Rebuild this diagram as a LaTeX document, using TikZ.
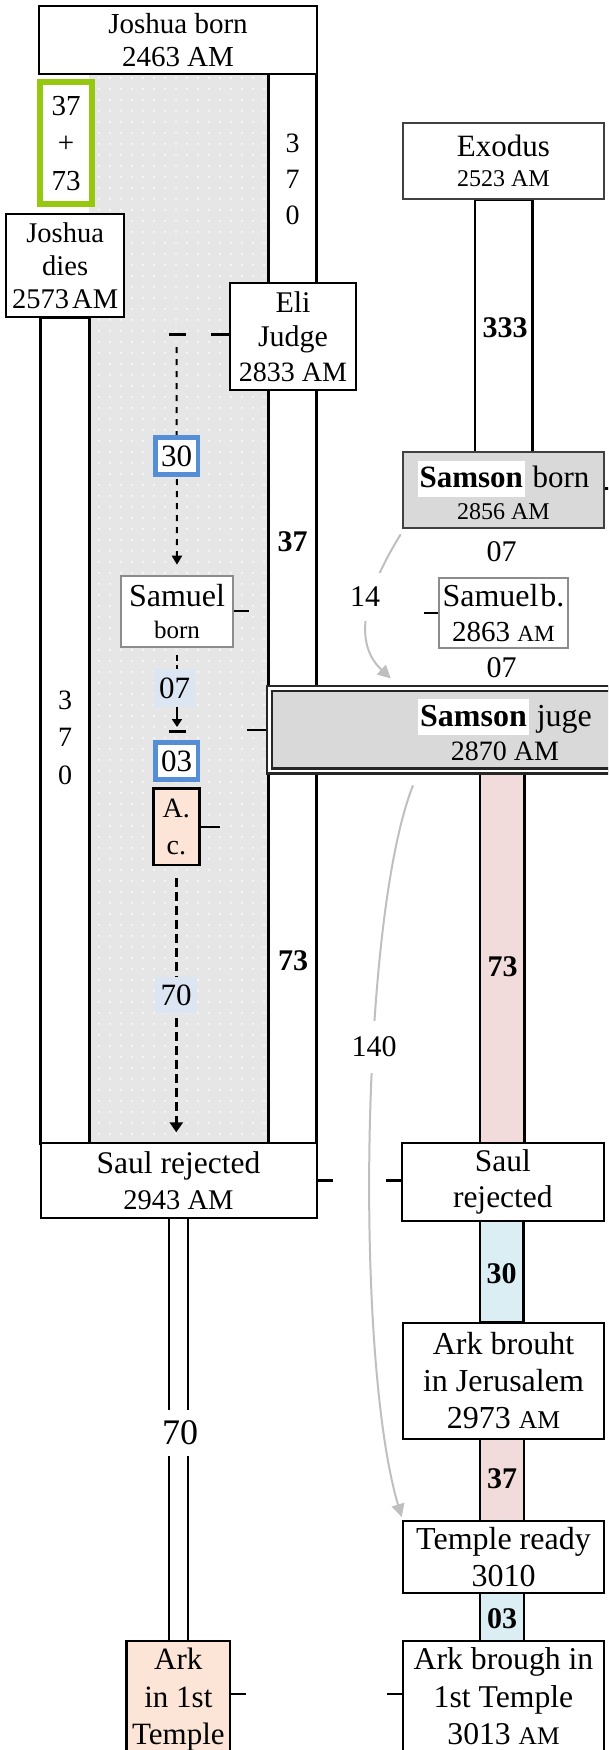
\documentclass[tikz,border=0pt]{standalone}
\usepackage{fontspec}
\setmainfont{Liberation Serif}
\usetikzlibrary{arrows.meta,calc,patterns.meta}
\pgfdeclarelayer{bg}
\pgfsetlayers{bg,main}
\newcommand\myfs[2]{\fontsize{#1}{#2}\selectfont}
\newcommand\hlSamson{{\setlength\fboxsep{0pt}\colorbox{white}{\hspace{2pt}\rule[-8.7pt]{0pt}{36pt}\textbf{Samson}\hspace{2pt}}}}
\newcommand\smallAM{\scalebox{0.8}{AM}}
\definecolor{greyfill}{HTML}{E6E6E6}
\definecolor{boxgrey}{HTML}{D9D9D9}
\definecolor{dkgrey}{HTML}{404040}
\definecolor{midgrey}{HTML}{8C8C8C}
\definecolor{lblue}{HTML}{DCE6F2}
\definecolor{cyanbar}{HTML}{DAEEF3}
\definecolor{pinkbar}{HTML}{F2DCDB}
\definecolor{peach}{HTML}{FCE4D6}
\definecolor{bluebd}{HTML}{558ED5}
\definecolor{limeg}{HTML}{96C80F}
\definecolor{arrowgrey}{HTML}{BFBFBF}
\begin{document}
\begin{tikzpicture}[x=1pt,y=-1pt,
  tbox/.style={rectangle, draw=black, fill=white, line width=2pt, inner sep=0pt, align=center},
  barstyle/.style={draw=black, line width=2.5pt},
  tick/.style={draw=black, line width=2.5pt},
  lbl/.style={inner sep=0pt, align=center},
  numb/.style={inner sep=0pt, font=\bfseries\myfs{30}{30}},
  bluebox/.style={rectangle, draw=bluebd, line width=4.5pt, fill=white, minimum width=42.2pt, minimum height=37.2pt, inner sep=0pt, font=\myfs{31}{36}},
  lbluelbl/.style={rectangle, fill=lblue, minimum width=41.3pt, minimum height=37.7pt, inner sep=0pt, font=\myfs{31}{36}},
  garrow/.style={draw=arrowgrey, line width=2pt, -{Triangle[width=13pt,length=13pt,fill=arrowgrey]}},
  glbl/.style={fill=white, inner xsep=2pt, font=\myfs{30}{30}}
]
\useasboundingbox (0,0) rectangle (608,1750);
\clip (0,0) rectangle (608,1750);

% ---------- boxes ----------
\node[tbox, minimum width=277.4pt, minimum height=68pt, font=\myfs{29}{33}] (JB) at (178,40) {Joshua born\\2463 AM};
\node[rectangle, draw=limeg, line width=6pt, fill=white, minimum width=51.7pt, minimum height=122pt, inner sep=0pt, align=center, font=\myfs{29}{37.5}] (G) at (66.15,143.3) {37\\+\\73};
\node[tbox, minimum width=118.3pt, minimum height=103pt, font=\myfs{28.5}{33}] (JD) at (65.15,265.8) {Joshua\\dies\\{\spaceskip=3pt 2573 AM}};
\node[tbox, minimum width=126.8pt, minimum height=107pt, font=\myfs{30}{34.5}] (Eli) at (293,336.5) {Eli\\Judge\\{\myfs{28}{34.5}2833 AM}};

\node[tbox, draw=dkgrey, minimum width=201.3pt, minimum height=76pt, font=\myfs{31}{30}] (Exo) at (503.35,161.3) {Exodus\\{\myfs{24}{30}2523 AM}};
\node[tbox, draw=dkgrey, fill=boxgrey, minimum width=201.6pt, minimum height=76pt, font=\myfs{31}{32}] (SB) at (503.5,490.3) {\hlSamson{} born\\{\myfs{24}{32}2856 AM}};
\node[lbl, font=\myfs{30}{30}] (s07a) at (501.7,551.7) {07};
\node[tbox, draw=midgrey, minimum width=128.4pt, minimum height=70.6pt, font=\myfs{32}{35}] (SmB) at (503.5,613) {{\spaceskip=2pt Samuel b.}\\{\myfs{29}{35}2863 \smallAM}};
\node[lbl, font=\myfs{30}{30}] (s07b) at (501.7,667.7) {07};
\node[rectangle, draw=black!85, double=white, double distance=2.5pt, line width=2.5pt, fill=boxgrey, minimum width=471.5pt, minimum height=82.4pt, inner sep=0pt, align=center, font=\myfs{32}{33.3}] (SJ) at (505,729.9) {\hlSamson{} juge\\{\myfs{28}{33.3}2870 AM}};

\node[tbox, draw=midgrey, minimum width=112.6pt, minimum height=71pt, font=\myfs{32}{31.7}] (SmN) at (177,611.2) {Samuel\\{\myfs{25}{31.7}born}};
\node[bluebox] (B30) at (176.65,455.85) {30};
\node[lbluelbl] (L07) at (174.7,688) {07};
\node[bluebox] (B03) at (176.65,760.85) {03};
\node[tbox, fill=peach, line width=2.5pt, minimum width=46pt, minimum height=76.3pt, font=\myfs{28}{36.7}] (AC) at (176.3,826.85) {A.\\c.};
\node[lbluelbl, minimum width=42pt, minimum height=36pt] (L70) at (176,995) {70};

\node[tbox, minimum width=276pt, minimum height=74.4pt, font=\myfs{31.5}{36}] (SaulL) at (178.5,1180.5) {Saul rejected\\{\myfs{28.5}{36}2943 AM}};
\node[tbox, minimum width=202.3pt, minimum height=77.7pt, font=\myfs{31.5}{36}] (SaulR) at (502.85,1182.2) {Saul\\rejected};
\node[tbox, minimum width=201.6pt, minimum height=116.3pt, font=\myfs{32}{37}] (ArkJ) at (503.5,1380.9) {Ark brouht\\in Jerusalem\\2973 \smallAM};
\node[tbox, minimum width=201.6pt, minimum height=71.7pt, font=\myfs{32}{37}] (Tmp) at (503.5,1556.9) {Temple ready\\3010};
\node[tbox, minimum width=201.6pt, minimum height=111pt, font=\myfs{31.7}{37.5}] (ArkB) at (503.5,1696.5) {Ark brough in\\1st Temple\\3013 \smallAM};
\node[tbox, fill=peach, line width=2.5pt, minimum width=103.3pt, minimum height=117.8pt, font=\myfs{31}{37.5}] (ArkT) at (178.35,1699.9) {Ark\\in 1st\\Temple};

% ---------- bar labels ----------
\node[lbl, font=\myfs{28}{36}] (n370a) at (292.5,179) {3\\7\\0};
\node[lbl, font=\myfs{28}{37.5}] (n370b) at (65,737.5) {3\\7\\0};
\node[numb] (n37a) at (292.5,541.5) {37};
\node[numb] (n73a) at (293,961) {73};
\node[numb] (n333) at (505,328) {333};
\node[numb] (n73b) at (502.5,967) {73};
\node[numb] (n30b) at (501.5,1273.8) {30};
\node[numb] (n37b) at (502,1478.6) {37};
\node[numb] (n03b) at (502,1618.5) {03};

% ---------- ticks ----------
\draw[tick] (SmN.east) -- ++(15,0);
\draw[tick] (AC.east) -- ++(19.7,0);
\draw[tick] ($(SJ.west)+(-2.5,0)$) -- ++(-19,0);
\draw[tick] (SmB.west) -- ++(-14.3,0);
\draw[tick] ($(SB.east)+(0,-2)$) -- ++(6,0);
\draw[tick] (SaulL.east) -- ++(15,0);
\draw[tick] ($(SaulR.west)+(0,-1.5)$) -- ++(-14.4,0);
\draw[tick] ($(ArkB.west)+(0,-2.5)$) -- ++(-14.7,0);
\draw[tick] ($(ArkT.east)+(0,-6)$) -- ++(15,0);

% ---------- background: shading, bars, connectors ----------
\begin{pgfonlayer}{bg}
\fill[greyfill] (89.3,74) rectangle (268.3,1143.3);
\fill[pattern={Dots[distance=11pt,radius=1pt]}, pattern color=white] (89.3,74) rectangle (268.3,1143.3);
\draw[barstyle, fill=white] (40.7,317.3) rectangle (89.3,1143.3);
\draw[barstyle, fill=white] (268.3,74) rectangle (316.7,1143.3);
\draw[barstyle, fill=white] (475,199.3) rectangle (532.7,452.3);
\draw[barstyle, fill=pinkbar] (480,773.3) rectangle (524.5,1143.3);
\draw[barstyle, fill=cyanbar] (480,1221) rectangle (523.5,1322.7);
\draw[barstyle, fill=pinkbar] (480,1439) rectangle (524,1521);
\draw[barstyle, fill=cyanbar] (480,1592.7) rectangle (524,1641);
\draw[line width=2pt, fill=white] (169,1217.7) rectangle (187.7,1641);

% dashed connectors in the left column
\draw[line width=2.5pt, dash pattern=on 17.5pt off 25pt] ($(Eli.west)+(0,-2)$) -- ++(-60.6,0) coordinate (eliend);
\coordinate (elidrop) at (176.5,347);
\draw[line width=2pt, dash pattern=on 6pt off 6pt, shorten >=10pt, -{Triangle[width=10pt,length=9pt]}] (elidrop) -- (SmN.north);
\draw[line width=2pt, dash pattern=on 6pt off 4pt, shorten <=7pt] (SmN.south) -- (SmN.south |- L07.north);
\coordinate (t07) at (177,727);
\draw[line width=2pt, -{Triangle[width=10pt,length=8pt]}] (L07.south -| t07) -- (t07);
\draw[line width=3pt] ($(t07)+(-8.5,4)$) -- ++(17,0);
\draw[line width=3pt, dash pattern=on 9pt off 5pt, shorten <=12pt, shorten >=10pt, -{Triangle[width=13pt,length=10pt]}] (AC.south) -- (AC.south |- SaulL.north);

% grey curved arrows
\draw[garrow] ($(SB.south west)+(-1,5)$) .. controls (360,600) and (355,645) .. ($(SJ.north west)+(122.75,-9)$);
\draw[garrow] ($(SJ.south west)+(145,13)$) .. controls (360,920) and (355,1360) .. ($(Tmp.north west)+(0,-3)$);
\end{pgfonlayer}

% labels on connectors
\node[glbl, inner ysep=14pt] (n14) at (365,596.7) {14};
\node[glbl, inner ysep=16pt] (n140) at (374,1046.7) {140};
\node[fill=white, inner xsep=1pt, inner ysep=11pt, font=\myfs{36}{36}] (n70) at (180,1433) {70};
\end{tikzpicture}
\end{document}
